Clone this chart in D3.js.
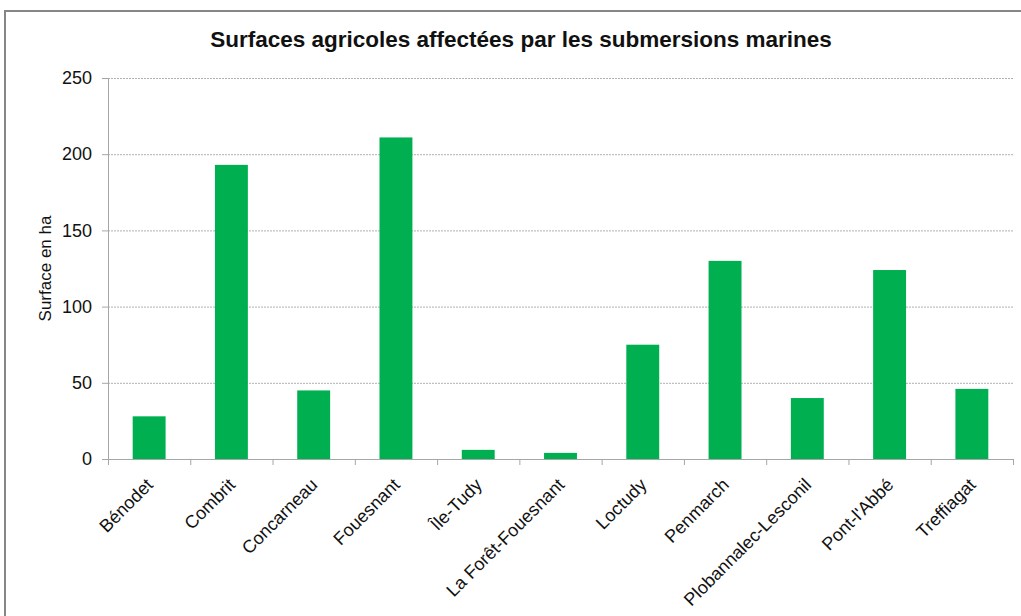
<!DOCTYPE html>
<html>
<head>
<meta charset="utf-8">
<script src="https://cdn.jsdelivr.net/npm/d3@7"></script>
<style>
  body { margin: 0; background: #fff; }
  svg { display: block; font-family: "Liberation Sans", Arial, sans-serif; }
</style>
</head>
<body>
<svg id="barSVG" width="1021" height="616"></svg>
<script>
const communes = ["Bénodet", "Combrit", "Concarneau", "Fouesnant", "Île-Tudy", "La Forêt-Fouesnant",
  "Loctudy", "Penmarch", "Plobannalec-Lesconil", "Pont-l'Abbé", "Treffiagat"];
const surfaces = [28, 193, 45, 211, 6, 4, 75, 130, 40, 124, 46];
const yTicks = [0, 50, 100, 150, 200, 250];

const svg = d3.select("#barSVG");
const margin = { top: 78, right: 8, bottom: 157, left: 108 };
const width = +svg.attr("width");
const height = +svg.attr("height");
const innerWidth = width - margin.left - margin.right;
const innerHeight = height - margin.top - margin.bottom;

// chart frame: only the top and left edges show, the rest is cut off
svg.append("path")
    .attr("d", "M5," + height + "V11H" + width)
    .attr("fill", "none")
    .attr("stroke", "#868686")
    .attr("stroke-width", 2);

svg.append("text")
    .attr("x", 521).attr("y", 47)
    .attr("text-anchor", "middle")
    .attr("font-size", 22.5)
    .attr("font-weight", "bold")
    .attr("fill", "#111")
    .text("Surfaces agricoles affectées par les submersions marines");

const x = d3.scaleBand()
    .domain(communes)
    .range([0, innerWidth])
    .paddingInner(0.6)
    .paddingOuter(0.3);
const y = d3.scaleLinear()
    .domain([0, 250])
    .range([innerHeight, 0]);

const g = svg.append("g").attr("transform", "translate(" + margin.left + "," + margin.top + ")");

// gridlines
g.append("g")
  .selectAll("line")
  .data(yTicks.filter(d => d > 0))
  .join("line")
    .attr("x1", 0).attr("x2", innerWidth)
    .attr("y1", d => y(d) + 0.5).attr("y2", d => y(d) + 0.5)
    .attr("stroke", "#b0b0b0")
    .attr("stroke-dasharray", "2,1")
    .attr("stroke-width", 1);

// y axis
const yAxis = g.append("g")
    .call(d3.axisLeft(y).tickValues(yTicks).tickSize(6).tickPadding(10));
yAxis.selectAll("line").attr("stroke", "#a6a6a6");
yAxis.select(".domain").attr("stroke", "#a6a6a6").attr("d", "M0.5,0V" + innerHeight);
yAxis.selectAll("text").attr("font-size", 18).attr("fill", "#111").attr("font-family", "Liberation Sans, Arial, sans-serif");

svg.append("text")
    .attr("transform", "translate(51," + (margin.top + innerHeight / 2) + ") rotate(-90)")
    .attr("text-anchor", "middle")
    .attr("font-size", 17)
    .attr("fill", "#111")
    .text("Surface en ha");

// bars
g.append("g")
  .selectAll("rect")
  .data(communes)
  .join("rect")
    .attr("x", d => x(d))
    .attr("y", (d, i) => y(surfaces[i]))
    .attr("width", x.bandwidth())
    .attr("height", (d, i) => innerHeight - y(surfaces[i]))
    .attr("fill", "#00b050");

// x axis
const step = x.step();
const xAxis = g.append("g").attr("transform", "translate(0," + innerHeight + ")");
xAxis.append("line")
    .attr("x1", 0).attr("x2", innerWidth)
    .attr("y1", 0.5).attr("y2", 0.5)
    .attr("stroke", "#a6a6a6");
xAxis.selectAll(".tick")
  .data(d3.range(communes.length + 1))
  .join("line")
    .attr("class", "tick")
    .attr("x1", i => i * step + 0.5).attr("x2", i => i * step + 0.5)
    .attr("y1", 0).attr("y2", 6)
    .attr("stroke", "#a6a6a6");
xAxis.selectAll("text")
  .data(communes)
  .join("text")
    .attr("transform", d => "translate(" + (x(d) + x.bandwidth() / 2 + 5) + ",27) rotate(-45)")
    .attr("text-anchor", "end")
    .attr("font-size", 18)
    .attr("fill", "#111")
    .text(d => d);
</script>
</body>
</html>
